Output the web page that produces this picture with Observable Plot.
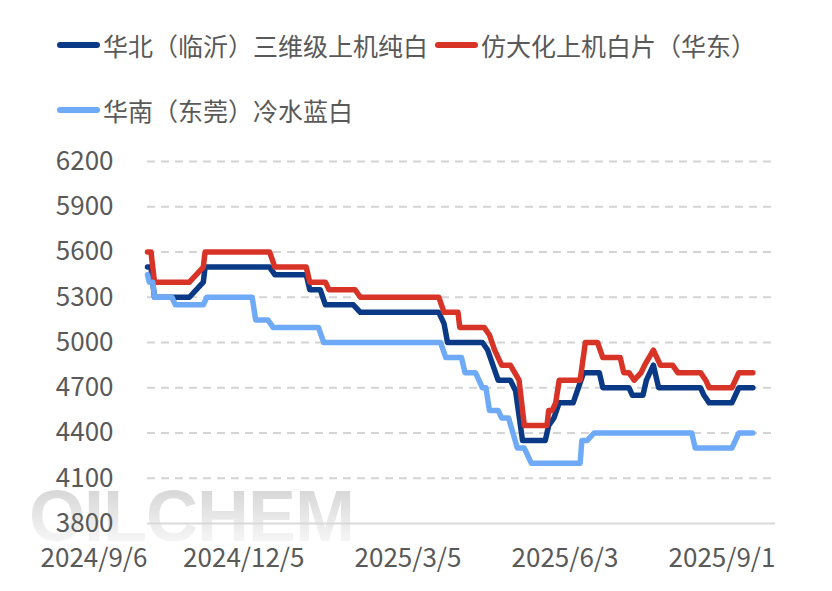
<!DOCTYPE html>
<html>
<head>
<meta charset="utf-8">
<script src="https://cdn.jsdelivr.net/npm/d3@7"></script>
<script src="https://cdn.jsdelivr.net/npm/@observablehq/plot@0.6"></script>
<style>
  html, body { margin: 0; padding: 0; background: #fff; }
  #wrap { position: relative; width: 832px; height: 591px; overflow: hidden; font-family: "Noto Sans CJK SC", "Noto Sans", sans-serif; }
  #legend { position: relative; height: 140px; }
  .item { position: absolute; height: 34px; display: flex; align-items: center; font-size: 25px; color: #595959; white-space: nowrap; }
  .sw { display: inline-block; width: 43px; height: 6px; border-radius: 3px; margin-right: 3px; }
  #wm { position: absolute; left: 29px; top: 488px; line-height: 0.8; font-family: "Liberation Sans", Arial, sans-serif; font-weight: bold; font-size: 72px; letter-spacing: -1px;
        background: linear-gradient(180deg, #d6d6d6 0%, #e9e9e9 55%, #f8f8f8 100%); -webkit-background-clip: text; background-clip: text; color: transparent; }
  #chart { position: absolute; left: 0; top: 140px; }
</style>
</head>
<body>
<div id="wrap">
  <div id="wm">OILCHEM</div>
  <div id="legend"></div>
  <div id="chart"></div>
</div>
<script>
// ---- Data ----
const seriesNames = ["华北（临沂）三维级上机纯白", "仿大化上机白片（华东）", "华南（东莞）冷水蓝白"];
const seriesColors = ["#0a3a85", "#d73327", "#6eaaf7"];

const northDates = ["2024-09-06","2024-09-08","2024-09-09","2024-09-10","2024-09-30","2024-10-08","2024-10-09","2024-11-15","2024-11-18","2024-12-06","2024-12-08","2024-12-14","2024-12-17","2025-01-02","2025-01-06","2025-02-20","2025-02-23","2025-02-25","2025-03-17","2025-03-20","2025-03-23","2025-03-26","2025-04-02","2025-04-05","2025-04-09","2025-04-22","2025-04-24","2025-04-27","2025-04-30","2025-05-08","2025-05-11","2025-05-14","2025-05-23","2025-05-25","2025-06-09","2025-06-11","2025-06-17","2025-06-19","2025-06-23","2025-06-26","2025-07-20","2025-07-22","2025-07-25","2025-08-07","2025-08-11","2025-08-19"];
const northValues = [5500,5500,5400,5300,5300,5400,5500,5500,5450,5450,5350,5350,5250,5250,5200,5200,5125,5000,5000,4950,4850,4750,4750,4680,4350,4350,4450,4500,4600,4600,4700,4800,4800,4700,4700,4650,4650,4750,4850,4700,4700,4650,4600,4600,4700,4700];

const eastDates = ["2024-09-06","2024-09-08","2024-09-10","2024-09-30","2024-10-08","2024-10-09","2024-11-15","2024-11-18","2024-12-06","2024-12-08","2024-12-17","2024-12-19","2025-01-03","2025-01-06","2025-02-20","2025-02-23","2025-03-03","2025-03-04","2025-03-18","2025-03-21","2025-03-24","2025-03-28","2025-04-02","2025-04-07","2025-04-10","2025-04-23","2025-04-24","2025-04-26","2025-04-28","2025-04-30","2025-05-12","2025-05-15","2025-05-22","2025-05-25","2025-06-04","2025-06-06","2025-06-09","2025-06-12","2025-06-16","2025-06-18","2025-06-23","2025-06-27","2025-07-04","2025-07-07","2025-07-20","2025-07-23","2025-07-25","2025-08-07","2025-08-11","2025-08-19"];
const eastValues = [5600,5600,5400,5400,5500,5600,5600,5500,5500,5400,5400,5350,5350,5300,5300,5200,5200,5100,5100,5050,4950,4850,4850,4750,4450,4450,4550,4550,4600,4750,4750,5000,5000,4900,4900,4800,4800,4750,4800,4850,4950,4850,4850,4800,4800,4750,4700,4700,4800,4800];

const southDates = ["2024-09-06","2024-09-07","2024-09-09","2024-09-10","2024-09-20","2024-09-22","2024-10-08","2024-10-10","2024-11-05","2024-11-07","2024-11-14","2024-11-17","2024-12-13","2024-12-16","2025-02-21","2025-02-24","2025-03-05","2025-03-07","2025-03-13","2025-03-17","2025-03-19","2025-03-21","2025-03-26","2025-03-28","2025-04-01","2025-04-06","2025-04-10","2025-04-14","2025-05-12","2025-05-13","2025-05-16","2025-05-20","2025-07-15","2025-07-17","2025-08-07","2025-08-11","2025-08-19"];
const southValues = [5450,5400,5400,5300,5300,5250,5250,5300,5300,5150,5150,5100,5100,5000,5000,4900,4900,4800,4800,4700,4700,4550,4550,4500,4500,4300,4300,4200,4200,4350,4350,4400,4400,4300,4300,4400,4400];

const yTicks = [3800, 4100, 4400, 4700, 5000, 5300, 5600, 5900, 6200];
const xTickDates = ["2024-09-06", "2024-12-05", "2025-03-05", "2025-06-03", "2025-09-01"];
const xDomain = ["2024-09-06", "2025-09-01"];

// ---- Build tables ----
const toRows = (dates, values) => dates.map((d, i) => ({date: new Date(d), value: values[i]}));
const north = toRows(northDates, northValues);
const east = toRows(eastDates, eastValues);
const south = toRows(southDates, southValues);

// ---- Legend ----
const legend = document.getElementById("legend");
const legendPos = [[57, 28], [435, 28], [57, 93]];
seriesNames.forEach((name, i) => {
  const it = document.createElement("div");
  it.className = "item";
  it.style.left = legendPos[i][0] + "px";
  it.style.top = legendPos[i][1] + "px";
  const sw = document.createElement("span");
  sw.className = "sw";
  sw.style.background = seriesColors[i];
  const tx = document.createElement("span");
  tx.textContent = name;
  it.appendChild(sw);
  it.appendChild(tx);
  legend.appendChild(it);
});

// ---- Chart ----
const fmt = d3.utcFormat("%Y/%-m/%-d");
const lineOpts = {x: "date", y: "value", strokeWidth: 5.5, strokeLinejoin: "round", curve: "linear"};
const chart = Plot.plot({
  width: 832,
  height: 451,
  marginLeft: 147,
  marginRight: 57,
  marginTop: 21,
  marginBottom: 68,
  style: {fontFamily: "'Noto Sans CJK SC', 'Noto Sans', sans-serif", fontSize: "26px", color: "#595959", background: "transparent", overflow: "visible"},
  x: {type: "utc", domain: xDomain.map(d => new Date(d))},
  y: {domain: [3800, 6200]},
  marks: [
    Plot.gridY(yTicks.filter(v => v !== 3800), {stroke: "#d4d4d4", strokeOpacity: 1, strokeWidth: 2, strokeDasharray: "8,6"}),
    Plot.ruleY([3800], {stroke: "#d9d9d9", strokeWidth: 2}),
    Plot.axisY(yTicks, {tickSize: 0, tickPadding: 34, label: null, tickFormat: d => String(d)}),
    Plot.axisX(xTickDates.map(d => new Date(d)), {tickSize: 0, tickPadding: 25, label: null, tickFormat: fmt, textAnchor: "end"}),
    Plot.line(north, {...lineOpts, stroke: seriesColors[0]}),
    Plot.line(east, {...lineOpts, stroke: seriesColors[1]}),
    Plot.line(south, {...lineOpts, stroke: seriesColors[2]})
  ]
});
document.getElementById("chart").appendChild(chart);
</script>
</body>
</html>
